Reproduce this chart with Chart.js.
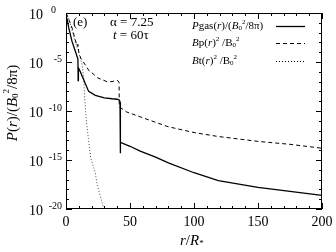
<!DOCTYPE html>
<html>
<head>
<meta charset="utf-8">
<script src="https://cdn.jsdelivr.net/npm/chart.js"></script>
<style>
  html, body { margin: 0; padding: 0; background: #fff; }
  #wrap { position: relative; width: 336px; height: 252px; }
</style>
</head>
<body>
<div id="wrap"><canvas id="chart"></canvas></div>
<script>
// values (r in R*, log10 of P or B^2)
const pgasR   = [0, 0.8, 2.1, 4.7, 7.3, 9.3, 9.5, 9.7, 11.2, 13.8, 17.7, 22.9, 30, 36, 40, 41.8, 42.2, 42.4, 42.6, 50, 58, 70, 80, 100, 119, 150, 175, 200];
const pgasLog = [-0.3, -0.6, -1.5, -2.9, -3.9, -4.7, -6.9, -5.6, -6.0, -6.8, -8.0, -8.4, -8.65, -8.75, -8.8, -8.9, -9.1, -14.3, -13.2, -13.6, -14.1, -14.7, -15.3, -16.3, -17.1, -17.8, -18.2, -18.6];

const bpR   = [0, 2, 4.7, 8.6, 9.3, 10, 11.5, 15.1, 18, 20.3, 24.5, 28, 32, 36, 38.8, 40.5, 41.5, 41.6, 43, 47.4, 58, 79.7, 100, 118.8, 150, 175, 200];
const bpLog = [0, -0.6, -1.5, -3.4, -3.2, -4.0, -4.6, -5.3, -5.9, -6.1, -6.6, -6.8, -7.0, -7.0, -6.9, -6.9, -7.1, -9.6, -9.7, -10.1, -10.6, -11.6, -12.2, -12.6, -13.1, -13.4, -13.8];

const btR   = [0, 0.8, 2, 4.7, 8.6, 9.3, 9.8, 12.5, 13.8, 14.6, 15.4, 16.2, 17.5, 19.3, 20, 22.7, 24.5, 29.2, 29.6];
const btLog = [0, -0.1, -0.5, -1.8, -3.5, -3.3, -4.0, -5.2, -6.6, -8.7, -10.2, -11.4, -12.8, -14.8, -15.1, -16.2, -17.6, -19.8, -20.1];

const xTicks = [0, 50, 100, 150, 200];
const yExps = [0, -5, -10, -15, -20];

const SERIF = '"Liberation Serif", "DejaVu Serif", serif';

function pts(rs, logs) {
  return rs.map((r, i) => ({ x: r, y: Math.pow(10, logs[i]) }));
}

// draw a run of text pieces: [text, size, italic, dy]
function rich(ctx, x, y, parts) {
  let cx = x;
  parts.forEach(p => {
    ctx.font = (p[2] ? 'italic ' : '') + p[1] + 'px ' + SERIF;
    ctx.fillText(p[0], cx, y + (p[3] || 0));
    cx += ctx.measureText(p[0]).width;
  });
  return cx;
}

function richWidth(ctx, parts) {
  let w = 0;
  parts.forEach(p => {
    ctx.font = (p[2] ? 'italic ' : '') + p[1] + 'px ' + SERIF;
    w += ctx.measureText(p[0]).width;
  });
  return w;
}

const framePlugin = {
  id: 'frame',
  afterDraw(chart) {
    const ctx = chart.ctx;
    const a = chart.chartArea;
    const xs = chart.scales.x, ys = chart.scales.y;
    ctx.save();
    ctx.strokeStyle = '#000';
    ctx.fillStyle = '#000';
    ctx.lineWidth = 1;
    ctx.strokeRect(a.left + 0.5, a.top + 0.5, a.right - a.left - 1, a.bottom - a.top - 1);

    // inward ticks
    ctx.beginPath();
    for (let v = 0; v <= 200; v += 10) {
      const px = Math.round(xs.getPixelForValue(v)) + 0.5;
      const len = v % 50 === 0 ? 6 : 3;
      ctx.moveTo(px, a.bottom); ctx.lineTo(px, a.bottom - len);
      ctx.moveTo(px, a.top); ctx.lineTo(px, a.top + len);
    }
    for (let e = 0; e >= -20; e--) {
      const py = Math.round(ys.getPixelForValue(Math.pow(10, e))) + 0.5;
      const len = e % 5 === 0 ? 6 : 3;
      ctx.moveTo(a.left, py); ctx.lineTo(a.left + len, py);
      ctx.moveTo(a.right, py); ctx.lineTo(a.right - len, py);
    }
    ctx.stroke();

    ctx.textBaseline = 'middle';
    ctx.textAlign = 'left';

    // x tick labels
    xTicks.forEach(v => {
      const parts = [[String(v), 14, false]];
      rich(ctx, xs.getPixelForValue(v) - richWidth(ctx, parts) / 2, a.bottom + 13, parts);
    });

    // y tick labels 10^n
    yExps.forEach(e => {
      const py = ys.getPixelForValue(Math.pow(10, e));
      const ex = e === 0 ? '0' : '-' + (-e);
      rich(ctx, 29, py + 2, [['10', 14, false]]);
      const ew = richWidth(ctx, [[ex, 10, false]]);
      rich(ctx, (e === 0 ? 56 : 62) - ew, py - 3, [[ex, 10, false]]);
    });

    // x title r/R*
    rich(ctx, 180, 241, [['r', 15, true], ['/', 15, false], ['R', 15, true], ['*', 9, false, 3]]);

    // y title, rotated
    ctx.save();
    ctx.translate(13, 103);
    ctx.rotate(-Math.PI / 2);
    const yt = [['P', 15, true], ['(', 15, false], ['r', 15, true], [')/(', 15, false], ['B', 15, true], ['0', 9, false, 3], ['2', 9, false, -6], ['/8π)', 15, false]];
    rich(ctx, -richWidth(ctx, yt) / 2, 0, yt);
    ctx.restore();

    // annotation
    rich(ctx, 73, 23, [['(e)', 13, false]]);
    rich(ctx, 110, 23, [['α = 7.25', 13, false]]);
    rich(ctx, 113, 36, [['t', 13, true], [' = 60τ', 13, false]]);

    // legend
    const lx = 192;
    rich(ctx, lx, 26, [['P', 11, true], ['gas(', 11, false], ['r', 11, true], [')/(', 11, false], ['B', 11, true], ['0', 7, false, 2], ['2', 7, false, -4], ['/8π)', 11, false]]);
    rich(ctx, lx, 43, [['B', 11, true], ['p(', 11, false], ['r', 11, true], [')', 11, false], ['2', 7, false, -4], [' /B', 11, false], ['0', 7, false, 2], ['2', 7, false, -4]]);
    rich(ctx, lx, 61, [['B', 11, true], ['t(', 11, false], ['r', 11, true], [')', 11, false], ['2', 7, false, -4], [' /B', 11, false], ['0', 7, false, 2], ['2', 7, false, -4]]);
    const samples = [[26, [], 1.3], [43, [4, 3], 1], [61, [1, 2], 1]];
    samples.forEach(s => {
      ctx.beginPath();
      ctx.setLineDash(s[1]);
      ctx.lineWidth = s[2];
      ctx.moveTo(276, s[0] + 0.5);
      ctx.lineTo(305, s[0] + 0.5);
      ctx.stroke();
    });
    ctx.restore();
  }
};

new Chart(document.getElementById('chart'), {
  type: 'line',
  data: {
    datasets: [
      { label: 'Pgas', data: pts(pgasR, pgasLog), borderColor: '#000', borderWidth: 1.3 },
      { label: 'Bp', data: pts(bpR, bpLog), borderColor: '#000', borderWidth: 1, borderDash: [4, 3] },
      { label: 'Bt', data: pts(btR, btLog), borderColor: '#444', borderWidth: 1, borderDash: [1, 2] }
    ]
  },
  options: {
    responsive: true,
    maintainAspectRatio: false,
    animation: false,
    layout: { padding: { left: 66, right: 14, top: 13, bottom: 43 } },
    elements: { point: { radius: 0 }, line: { tension: 0 } },
    plugins: { legend: { display: false }, tooltip: { enabled: false } },
    scales: {
      x: { type: 'linear', min: 0, max: 200, display: false },
      y: { type: 'logarithmic', min: 1e-20, max: 1, display: false }
    }
  },
  plugins: [framePlugin]
});
</script>
</body>
</html>
